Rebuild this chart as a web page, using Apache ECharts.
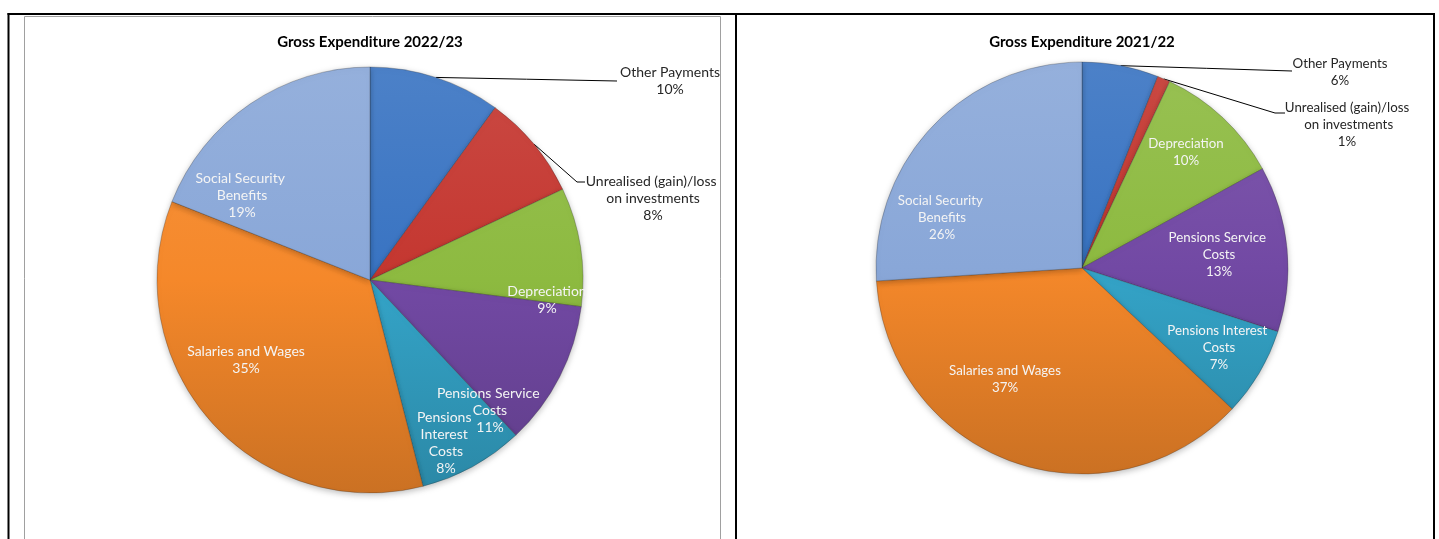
<!DOCTYPE html>
<html>
<head>
<meta charset="utf-8">
<title>Gross Expenditure</title>
<script src="https://cdn.jsdelivr.net/npm/echarts@6/dist/echarts.min.js"></script>
<style>
  html, body { margin: 0; padding: 0; background: #ffffff; }
  #chart { width: 1439px; height: 539px; }
</style>
</head>
<body>
<div id="chart"></div>
<script>
// Expenditure categories, in the order the slices run clockwise from 12 o'clock
const categories = [
  'Other Payments',
  'Unrealised (gain)/loss on investments',
  'Depreciation',
  'Pensions Service Costs',
  'Pensions Interest Costs',
  'Salaries and Wages',
  'Social Security Benefits'
];

// Share of gross expenditure, percent
const share2223 = [10, 8, 9, 11, 8, 35, 19];
const share2122 = [6, 1, 10, 13, 7, 37, 26];

const titles = ['Gross Expenditure 2022/23', 'Gross Expenditure 2021/22'];

// ---- presentation ----
const sliceColors = ['#3873C2', '#C4362F', '#8DBA40', '#7249A4', '#34A4C8', '#F5882A', '#89A7D8'];
const FONT = 'Lato, "Open Sans", sans-serif';

// Pie geometry (px) and per-slice label placement, relative to the pie centre
const PIES = [
  {
    values: share2223, title: titles[0], center: [370, 280], radius: 213, fontSize: 14,
    spots: [
      { dx: 300, dy: -199, width: 120, line: [[247, -199]] },
      { dx: 283, dy: -82, width: 136, line: [[207, -98], [215, -98]] },
      { dx: 177, dy: 20, width: 95 },
      { dx: 120, dy: 130, width: 110 },
      { dx: 76, dy: 163, width: 60 },
      { dx: -124, dy: 80, width: 150 },
      { dx: -128, dy: -85, width: 105 }
    ]
  },
  {
    values: share2122, title: titles[1], center: [1082, 268], radius: 206, fontSize: 13.3,
    spots: [
      { dx: 258, dy: -196, width: 120, line: [[210, -197]] },
      { dx: 265, dy: -143, width: 128, line: [[193, -155], [203, -155]] },
      { dx: 104, dy: -116, width: 95 },
      { dx: 137, dy: -13, width: 110 },
      { dx: 137, dy: 80, width: 112 },
      { dx: -77, dy: 111, width: 150 },
      { dx: -140, dy: -50, width: 105 }
    ]
  }
];

function shade(hex, amt) {
  const n = parseInt(hex.slice(1), 16);
  const ch = [(n >> 16) & 255, (n >> 8) & 255, n & 255];
  const t = amt < 0 ? 0 : 255, p = Math.abs(amt);
  const out = ch.map(c => Math.round(c + (t - c) * p));
  return 'rgb(' + out.join(',') + ')';
}

// lit from above: lighter rim at the top, darker rim at the bottom
function sliceFill(pie, base) {
  return {
    type: 'linear', global: true,
    x: pie.center[0], y: pie.center[1] - pie.radius,
    x2: pie.center[0], y2: pie.center[1] + pie.radius,
    colorStops: [
      { offset: 0, color: shade(base, 0.1) },
      { offset: 0.5, color: base },
      { offset: 1, color: shade(base, -0.17) }
    ]
  };
}

// point on the rim at the middle of a slice (start at 12 o'clock, clockwise)
function rimPoint(pie, idx) {
  const total = pie.values.reduce((a, b) => a + b, 0);
  let before = 0;
  for (let k = 0; k < idx; k++) before += pie.values[k];
  const a = 2 * Math.PI * (before + pie.values[idx] / 2) / total;
  return [pie.center[0] + pie.radius * Math.sin(a), pie.center[1] - pie.radius * Math.cos(a)];
}

const chart = echarts.init(document.getElementById('chart'));

const option = {
  animation: false,
  backgroundColor: '#ffffff',
  title: PIES.map(pie => ({
    text: pie.title,
    left: pie.center[0],
    top: 35,
    padding: 0,
    textAlign: 'center',
    textStyle: { fontFamily: FONT, fontSize: 15, fontWeight: 'bold', color: '#000000' }
  })),
  graphic: [
    // chart-area frame of the first chart
    { type: 'rect', silent: true, shape: { x: 24.5, y: 16.5, width: 696, height: 540 },
      style: { fill: 'none', stroke: '#A0A0A0', lineWidth: 1 } },
    // surrounding table rules
    { type: 'line', silent: true, shape: { x1: 7.5, y1: 14, x2: 1435, y2: 14 },
      style: { stroke: '#000000', lineWidth: 2 } },
    { type: 'line', silent: true, shape: { x1: 8.5, y1: 13, x2: 8.5, y2: 539 },
      style: { stroke: '#000000', lineWidth: 2 } },
    { type: 'line', silent: true, shape: { x1: 736, y1: 13, x2: 736, y2: 539 },
      style: { stroke: '#000000', lineWidth: 2 } },
    { type: 'line', silent: true, shape: { x1: 1434, y1: 13, x2: 1434, y2: 539 },
      style: { stroke: '#000000', lineWidth: 2 } }
  ],
  series: PIES.map((pie, si) => ({
    type: 'pie',
    center: pie.center,
    radius: pie.radius,
    startAngle: 90,
    clockwise: true,
    avoidLabelOverlap: false,
    minShowLabelAngle: 0,
    emphasis: { disabled: true },
    itemStyle: {
      borderColor: 'rgba(40,40,40,0.35)',
      borderWidth: 0.8,
      shadowBlur: 6,
      shadowColor: 'rgba(0,0,0,0.25)',
      shadowOffsetY: 2
    },
    label: {
      fontFamily: FONT,
      fontSize: pie.fontSize,
      lineHeight: 17,
      overflow: 'break',
      formatter: p => p.name + '\n' + Math.round(p.percent) + '%'
    },
    labelLine: { show: false, lineStyle: { color: '#000000', width: 1 } },
    labelLayout: params => {
      const s = pie.spots[params.dataIndex];
      const cx = pie.center[0], cy = pie.center[1];
      const out = { x: cx + s.dx, y: cy + s.dy, align: 'center', verticalAlign: 'middle', hideOverlap: false };
      if (s.line) {
        const pts = [rimPoint(pie, params.dataIndex)];
        s.line.forEach(pt => pts.push([cx + pt[0], cy + pt[1]]));
        if (pts.length === 2) pts.splice(1, 0, [(pts[0][0] + pts[1][0]) / 2, (pts[0][1] + pts[1][1]) / 2]);
        out.labelLinePoints = pts;
      }
      return out;
    },
    data: categories.map((name, i) => {
      const s = pie.spots[i];
      const outside = !!s.line;
      return {
        name: name,
        value: pie.values[i],
        itemStyle: { color: sliceFill(pie, sliceColors[i]) },
        label: {
          position: outside ? 'outside' : 'inside',
          width: s.width,
          color: outside ? '#262626' : '#F4F4F4'
        },
        labelLine: { show: outside }
      };
    })
  }))
};

chart.setOption(option);
</script>
</body>
</html>
